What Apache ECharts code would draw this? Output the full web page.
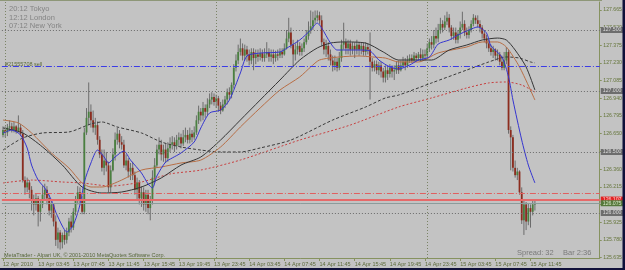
<!DOCTYPE html>
<html><head><meta charset="utf-8">
<script src="https://cdn.jsdelivr.net/npm/echarts@6/dist/echarts.min.js"></script>
<style>html,body{margin:0;padding:0;background:#c3c3c3;}#c{width:625px;height:270px;}</style>
</head><body><div id="c"></div>
<script>
// ---- time axis ----
const barCount = 272;              // visible bar slots (incl. empty chart shift)
const tickBars = [0,16,32,48,64,80,96,112,128,144,160,176,192,208,224,240];
const tickLabels = ["12 Apr 2010","13 Apr 03:45","13 Apr 07:45","13 Apr 11:45","13 Apr 15:45","13 Apr 19:45","13 Apr 23:45","14 Apr 03:45","14 Apr 07:45","14 Apr 11:45","14 Apr 15:45","14 Apr 19:45","14 Apr 23:45","15 Apr 03:45","15 Apr 07:45","15 Apr 11:45"];
const separatorBars = [1, 97, 193];
// ---- price axis ----
const priceMin = 125.6311, priceMax = 127.7295;
const priceTicks = [125.635,125.780,125.925,126.070,126.215,126.360,126.505,126.650,126.795,126.940,127.085,127.230,127.375,127.520,127.665];
const roundLevels = [127.5, 127.0, 126.5, 126.0];
const orderLevel = 127.197;
const stopLevel = 126.164;
const askLevel = 126.107;
const bidLevel = 126.075;
// ---- candles: [open, close, low, high] ----
const candles = [
[126.64,126.68,126.62,126.71],[126.68,126.66,126.62,126.71],[126.66,126.70,126.63,126.73],[126.70,126.71,126.67,126.76],
[126.71,126.68,126.66,126.74],[126.68,126.71,126.66,126.75],[126.71,126.67,126.65,126.72],[126.67,126.70,126.66,126.80],
[126.70,126.65,126.63,126.73],[126.65,126.27,126.25,126.68],[126.27,126.21,126.15,126.30],[126.21,126.25,126.17,126.29],
[126.25,126.19,126.12,126.27],[126.19,126.11,126.02,126.22],[126.11,126.07,125.98,126.15],[126.07,126.12,126.02,126.16],
[126.12,126.01,125.89,126.14],[126.01,126.07,125.93,126.11],[126.07,126.15,126.04,126.22],[126.15,126.19,126.11,126.24],
[126.19,126.12,126.07,126.22],[126.12,126.02,125.98,126.15],[126.02,126.07,125.96,126.11],[126.07,125.93,125.89,126.08],
[125.93,125.78,125.73,125.98],[125.78,125.84,125.71,125.88],[125.84,125.76,125.70,125.86],[125.76,125.82,125.71,125.84],
[125.82,125.78,125.74,125.86],[125.78,125.84,125.75,125.88],[125.84,125.93,125.81,125.96],[125.93,125.88,125.84,125.98],
[125.88,126.01,125.86,126.04],[126.01,126.11,125.98,126.14],[126.11,126.17,126.07,126.22],[126.17,126.11,126.07,126.21],
[126.11,126.01,125.99,126.14],[126.01,126.66,125.99,126.70],[126.66,126.78,126.64,126.86],[126.78,126.83,126.72,127.07],
[126.83,126.76,126.70,126.89],[126.76,126.70,126.66,126.84],[126.70,126.72,126.64,126.78],[126.72,126.60,126.56,126.75],
[126.60,126.48,126.45,126.63],[126.48,126.37,126.34,126.52],[126.37,126.43,126.31,126.52],[126.43,126.39,126.34,126.50],
[126.39,126.21,126.17,126.42],[126.21,126.35,126.17,126.39],[126.35,126.48,126.34,126.53],[126.48,126.60,126.43,126.66],
[126.60,126.65,126.56,126.70],[126.65,126.58,126.53,126.68],[126.58,126.56,126.52,126.63],[126.56,126.39,126.37,126.60],
[126.39,126.43,126.35,126.48],[126.43,126.34,126.29,126.45],[126.34,126.37,126.27,126.41],[126.37,126.31,126.27,126.42],
[126.31,126.19,126.15,126.34],[126.19,126.25,126.11,126.29],[126.25,126.12,126.07,126.27],[126.12,126.17,126.05,126.22],
[126.17,126.07,126.02,126.21],[126.07,126.15,126.01,126.19],[126.15,126.04,125.99,126.19],[126.04,126.11,125.94,126.14],
[126.11,126.29,126.07,126.35],[126.29,126.39,126.25,126.45],[126.39,126.52,126.37,126.56],[126.52,126.56,126.48,126.62],
[126.56,126.48,126.43,126.60],[126.48,126.52,126.42,126.56],[126.52,126.45,126.41,126.57],[126.45,126.53,126.42,126.58],
[126.53,126.56,126.50,126.62],[126.56,126.58,126.52,126.63],[126.58,126.55,126.50,126.62],[126.55,126.60,126.52,126.64],
[126.60,126.62,126.55,126.66],[126.62,126.57,126.53,126.65],[126.57,126.62,126.55,126.68],[126.62,126.64,126.58,126.70],
[126.64,126.60,126.57,126.68],[126.60,126.65,126.57,126.70],[126.65,126.62,126.58,126.68],[126.62,126.66,126.60,126.71],
[126.66,126.76,126.64,126.80],[126.76,126.83,126.73,126.88],[126.83,126.80,126.75,126.86],[126.80,126.86,126.76,126.91],
[126.86,126.83,126.78,126.89],[126.83,126.89,126.80,126.94],[126.89,126.93,126.86,126.98],[126.93,126.95,126.89,126.99],
[126.95,126.91,126.88,126.98],[126.91,126.94,126.86,126.97],[126.94,126.88,126.83,126.96],[126.88,126.84,126.81,126.91],
[126.84,126.89,126.83,126.93],[126.89,126.93,126.86,126.96],[126.93,126.99,126.89,127.02],[126.99,126.97,126.93,127.03],
[126.97,127.05,126.94,127.07],[127.05,127.19,127.02,127.22],[127.19,127.25,127.16,127.30],[127.25,127.32,127.22,127.38],
[127.32,127.35,127.29,127.43],[127.35,127.29,127.25,127.39],[127.29,127.34,127.25,127.38],[127.34,127.30,127.24,127.37],
[127.30,127.25,127.21,127.34],[127.25,127.32,127.22,127.35],[127.32,127.27,127.17,127.35],[127.27,127.30,127.22,127.34],
[127.30,127.28,127.24,127.34],[127.28,127.31,127.25,127.35],[127.31,127.27,127.24,127.34],[127.27,127.30,127.24,127.35],
[127.30,127.32,127.27,127.40],[127.32,127.28,127.24,127.35],[127.28,127.30,127.24,127.34],[127.30,127.27,127.22,127.34],
[127.27,127.30,127.24,127.33],[127.30,127.29,127.25,127.34],[127.29,127.32,127.27,127.35],[127.32,127.30,127.27,127.35],
[127.30,127.35,127.29,127.39],[127.35,127.43,127.34,127.50],[127.43,127.48,127.40,127.60],[127.48,127.38,127.35,127.52],
[127.38,127.30,127.20,127.42],[127.30,127.34,127.25,127.39],[127.34,127.37,127.30,127.42],[127.37,127.32,127.29,127.40],
[127.32,127.35,127.29,127.39],[127.35,127.40,127.32,127.43],[127.40,127.45,127.38,127.50],[127.45,127.50,127.42,127.57],
[127.50,127.53,127.47,127.66],[127.53,127.58,127.50,127.65],[127.58,127.60,127.55,127.66],[127.60,127.62,127.57,127.66],
[127.62,127.58,127.55,127.65],[127.58,127.40,127.37,127.62],[127.40,127.34,127.30,127.43],[127.34,127.37,127.28,127.42],
[127.37,127.30,127.25,127.40],[127.30,127.25,127.21,127.34],[127.25,127.21,127.16,127.29],[127.21,127.24,127.17,127.29],
[127.24,127.19,127.16,127.27],[127.19,127.27,127.17,127.32],[127.27,127.38,127.24,127.42],[127.38,127.40,127.34,127.56],
[127.40,127.35,127.30,127.43],[127.35,127.39,127.30,127.42],[127.39,127.34,127.29,127.42],[127.34,127.37,127.30,127.40],
[127.37,127.34,127.27,127.40],[127.34,127.38,127.30,127.42],[127.38,127.34,127.29,127.40],[127.34,127.37,127.30,127.40],
[127.37,127.32,127.29,127.40],[127.32,127.36,127.29,127.40],[127.36,127.34,127.30,127.39],[127.34,127.24,126.93,127.48],
[127.24,127.19,127.16,127.27],[127.19,127.22,127.16,127.25],[127.22,127.17,127.14,127.25],[127.17,127.21,127.13,127.24],
[127.21,127.16,127.11,127.24],[127.16,127.11,127.07,127.19],[127.11,127.17,127.07,127.21],[127.17,127.14,127.09,127.21],
[127.14,127.19,127.11,127.22],[127.19,127.16,127.11,127.21],[127.16,127.17,127.09,127.21],[127.17,127.21,127.14,127.24],
[127.21,127.17,127.14,127.25],[127.17,127.21,127.16,127.25],[127.21,127.24,127.19,127.28],[127.24,127.21,127.17,127.27],
[127.21,127.25,127.19,127.29],[127.25,127.27,127.23,127.30],[127.27,127.25,127.23,127.30],[127.25,127.29,127.24,127.32],
[127.29,127.27,127.24,127.31],[127.27,127.30,127.25,127.32],[127.30,127.27,127.24,127.35],[127.27,127.30,127.25,127.34],
[127.30,127.29,127.25,127.34],[127.29,127.35,127.27,127.39],[127.35,127.40,127.32,127.43],[127.40,127.38,127.34,127.45],
[127.38,127.45,127.35,127.50],[127.45,127.43,127.39,127.52],[127.43,127.50,127.40,127.55],[127.50,127.55,127.47,127.60],
[127.55,127.52,127.48,127.58],[127.52,127.57,127.50,127.62],[127.57,127.60,127.54,127.65],[127.60,127.52,127.48,127.63],
[127.52,127.45,127.42,127.54],[127.45,127.48,127.42,127.52],[127.48,127.42,127.39,127.52],[127.42,127.47,127.39,127.50],
[127.47,127.52,127.43,127.57],[127.52,127.55,127.50,127.65],[127.55,127.48,127.45,127.58],[127.48,127.46,127.43,127.52],
[127.46,127.50,127.43,127.53],[127.50,127.55,127.48,127.58],[127.55,127.60,127.53,127.63],[127.60,127.58,127.55,127.62],
[127.58,127.55,127.52,127.62],[127.55,127.52,127.48,127.58],[127.52,127.47,127.43,127.54],[127.47,127.43,127.40,127.50],
[127.43,127.39,127.35,127.46],[127.39,127.35,127.32,127.42],[127.35,127.32,127.29,127.38],[127.32,127.34,127.27,127.37],
[127.34,127.29,127.25,127.35],[127.29,127.30,127.25,127.34],[127.30,127.24,127.21,127.32],[127.24,127.19,127.17,127.29],
[127.19,127.25,127.17,127.32],[127.25,127.32,127.22,127.36],[127.32,126.68,126.65,127.34],[126.68,126.62,126.35,126.71],
[126.62,126.37,126.34,126.64],[126.37,126.31,126.29,126.43],[126.31,126.34,126.27,126.37],[126.34,126.17,126.15,126.35],
[126.17,125.94,125.91,126.21],[125.94,126.07,125.82,126.11],[126.07,125.93,125.86,126.09],[125.93,126.04,125.90,126.08],
[126.04,126.01,125.88,126.07],[126.01,126.07,125.98,126.11],[126.07,126.08,126.02,126.11]
];
// ---- moving averages, read at sampled bars: [barIndex, price] ----
const blueMA = [[0,126.656],[4,126.680],[8,126.639],[11,126.533],[13,126.393],[16,126.270],[19,126.205],[22,126.107],[24,126.008],[27,125.893],[29,125.844],[32,125.902],[35,126.066],[37,126.254],[40,126.410],[43,126.516],[46,126.459],[48,126.410],[51,126.459],[55,126.508],[58,126.434],[63,126.328],[66,126.238],[68,126.205],[70,126.303],[74,126.418],[77,126.451],[81,126.492],[87,126.582],[90,126.697],[94,126.820],[99,126.844],[103,126.926],[108,127.148],[111,127.287],[117,127.311],[126,127.320],[130,127.361],[135,127.418],[140,127.500],[143,127.557],[145,127.516],[149,127.393],[152,127.336],[156,127.336],[162,127.336],[167,127.328],[171,127.254],[176,127.197],[180,127.180],[185,127.213],[189,127.254],[194,127.279],[198,127.385],[203,127.418],[207,127.459],[212,127.500],[216,127.525],[220,127.475],[222,127.369],[227,127.279],[230,127.115],[232,126.926],[236,126.598],[239,126.393],[242,126.246]];
const blackMA = [[0,126.697],[9,126.656],[18,126.541],[27,126.393],[36,126.213],[45,126.164],[54,126.172],[63,126.213],[72,126.287],[81,126.393],[90,126.459],[99,126.598],[108,126.762],[117,126.926],[126,127.090],[135,127.254],[143,127.353],[149,127.393],[155,127.402],[165,127.393],[173,127.320],[180,127.254],[195,127.254],[203,127.336],[211,127.377],[218,127.418],[225,127.434],[229,127.418],[233,127.336],[238,127.197],[242,127.008]];
const brownMA = [[0,126.762],[7,126.738],[13,126.656],[22,126.492],[30,126.369],[36,126.246],[40,126.213],[45,126.213],[54,126.270],[63,126.352],[72,126.377],[81,126.410],[90,126.434],[99,126.541],[108,126.705],[117,126.861],[126,127.008],[135,127.115],[140,127.197],[144,127.254],[153,127.279],[162,127.287],[168,127.279],[174,127.270],[180,127.238],[189,127.238],[198,127.312],[211,127.361],[218,127.402],[225,127.402],[229,127.361],[235,127.197],[242,126.926]];
const dashMA = [[0,126.516],[9,126.615],[18,126.656],[30,126.664],[40,126.730],[45,126.746],[52,126.705],[63,126.656],[72,126.582],[81,126.541],[90,126.516],[99,126.500],[108,126.500],[117,126.533],[131,126.598],[150,126.762],[165,126.869],[174,126.943],[180,126.967],[195,127.066],[211,127.172],[221,127.238],[229,127.279],[235,127.270],[240,127.238],[242,127.230]];
const redMA = [[0,126.246],[13,126.270],[27,126.254],[36,126.246],[49,126.221],[63,126.254],[76,126.320],[90,126.352],[108,126.434],[135,126.598],[158,126.721],[180,126.869],[195,126.943],[211,127.025],[221,127.066],[229,127.074],[236,127.049],[242,126.992]];

// ---- build ----
const months = ['Jan','Feb','Mar','Apr','May','Jun','Jul','Aug','Sep','Oct','Nov','Dec'];
const t0 = Date.UTC(2010,3,12,23,45);
const pad = n => (n<10?'0':'')+n;
const categories = [];
for (let i=0;i<barCount;i++){ const d=new Date(t0+i*900000); categories.push(d.getUTCDate()+' '+months[d.getUTCMonth()]+' '+pad(d.getUTCHours())+':'+pad(d.getUTCMinutes())); }
const candleData = candles.map((c,i)=>[i,c[0],c[1],c[2],c[3]]);
const FONT = '"Liberation Sans", Arial, sans-serif';
const OLIVE = '#86925f';

function renderCandle(params, api){
  const i=api.value(0), o=api.value(1), c=api.value(2), l=api.value(3), h=api.value(4);
  const pO=api.coord([i,o]), pC=api.coord([i,c]), pL=api.coord([i,l]), pH=api.coord([i,h]);
  const x=pO[0];
  const top=Math.min(pO[1],pC[1]), bot=Math.max(pO[1],pC[1]);
  return {type:'group', children:[
    {type:'line', shape:{x1:x,y1:pH[1],x2:x,y2:pL[1]}, style:{stroke:'#6c6c6c',lineWidth:1}},
    {type:'rect', shape:{x:x-0.9,y:top,width:1.8,height:Math.max(1,bot-top)}, style:{fill:c>=o?'#4a8040':'#8c2c1e'}}
  ]};
}
function boxLabel(v,bg,fg){return {show:true,position:'end',distance:1,formatter:v.toFixed(3),backgroundColor:bg,color:fg,padding:[1,3,0,2],fontSize:5.2,fontFamily:FONT};}
const mlData = [];
roundLevels.forEach(v=>mlData.push({yAxis:v,lineStyle:{color:'#6a6a6a',type:[1,2],width:1},label:boxLabel(v,'#6d6d6d','#dadada')}));
separatorBars.forEach(b=>mlData.push({xAxis:b,lineStyle:{color:'#7b8466',type:[1,2],width:1},label:{show:false}}));
mlData.push({yAxis:orderLevel,lineStyle:{color:'#3c3ce6',type:[6,2,1,2],width:1},label:{show:false}});
mlData.push({yAxis:stopLevel,lineStyle:{color:'#e06060',type:[6,2,1,2],width:1},label:{show:false}});
mlData.push({yAxis:askLevel,lineStyle:{color:'#e66a6a',type:'solid',width:2},label:boxLabel(askLevel,'#e02222','#ffd0d0')});
mlData.push({yAxis:bidLevel,lineStyle:{color:'#8c9c9c',type:'solid',width:1},label:boxLabel(bidLevel,'#55783c','#d8e8c8')});

function maSeries(name,data,color,type){
  return {name,type:'line',data,symbol:'none',smooth:0.25,z:4,silent:true,
    lineStyle:{color,width:1,type:type||'solid'}};
}
const txt=(t,x,y,size,color)=>({type:'text',x,y,silent:true,z:50,style:{text:t,fill:color,font:size+'px '+FONT,verticalAlign:'middle',textVerticalAlign:'middle'}});

const chart = echarts.init(document.getElementById('c'),null,{renderer:'canvas'});
chart.setOption({
  animation:false,
  backgroundColor:'#c3c3c3',
  textStyle:{fontFamily:FONT},
  grid:{left:0,right:23,top:2,bottom:12,containLabel:false},
  xAxis:{type:'category',data:categories,boundaryGap:true,
    axisLine:{lineStyle:{color:OLIVE}},
    axisTick:{show:true,alignWithLabel:true,length:3,interval:(i)=>tickBars.includes(i),lineStyle:{color:OLIVE}},
    axisLabel:{interval:(i)=>tickBars.includes(i),formatter:(v,i)=>tickLabels[tickBars.indexOf(i)],align:'left',margin:3,fontSize:5.5,color:'#5c6a3a'},
    splitLine:{show:false}},
  yAxis:{type:'value',position:'right',min:priceMin,max:priceMax,
    axisLine:{show:true,lineStyle:{color:OLIVE}},
    axisTick:{show:true,length:2,customValues:priceTicks,lineStyle:{color:OLIVE}},
    axisLabel:{customValues:priceTicks,formatter:v=>v.toFixed(3),margin:3.5,fontSize:5.2,color:'#66763c'},
    splitLine:{show:false}},
  series:[
    {type:'line',data:[],z:1,silent:true,markLine:{silent:true,symbol:['none','none'],animation:false,data:mlData}},
    {type:'custom',renderItem:renderCandle,data:candleData,encode:{x:0,y:[1,2,3,4]},z:2,silent:true},
    maSeries('red',redMA,'#c84040',[2,2]),
    maSeries('dash',dashMA,'#3a3a3a',[3,2]),
    maSeries('brown',brownMA,'#b86e45'),
    maSeries('black',blackMA,'#353535'),
    maSeries('blue',blueMA,'#3535d0')
  ],
  graphic:[
    {type:'line',silent:true,z:40,shape:{x1:0,y1:0.5,x2:602,y2:0.5},style:{stroke:'#8e9778',lineWidth:1}},
    txt('20:12 Tokyo',9,9,7.5,'#848484'),
    txt('12:12 London',9,17.5,7.5,'#848484'),
    txt('07:12 New York',9,26,7.5,'#848484'),
    txt('#21555708 sell',5,64,5.5,'#5c6b37'),
    txt('MetaTrader - Alpari UK, \u00a9 2001-2010 MetaQuotes Software Corp.',4,255.5,5.5,'#56663a'),
    txt('Spread: 32',517,253,7.5,'#7a7a7a'),
    txt('Bar 2:36',563,253,7.5,'#7a7a7a'),
    {type:'rect',silent:true,z:60,shape:{x:0,y:268,width:625,height:2},style:{fill:'#10103a'}},
    {type:'rect',silent:true,z:60,shape:{x:622.5,y:0,width:2.5,height:270},style:{fill:'#10103a'}}
  ]
});
</script></body></html>
